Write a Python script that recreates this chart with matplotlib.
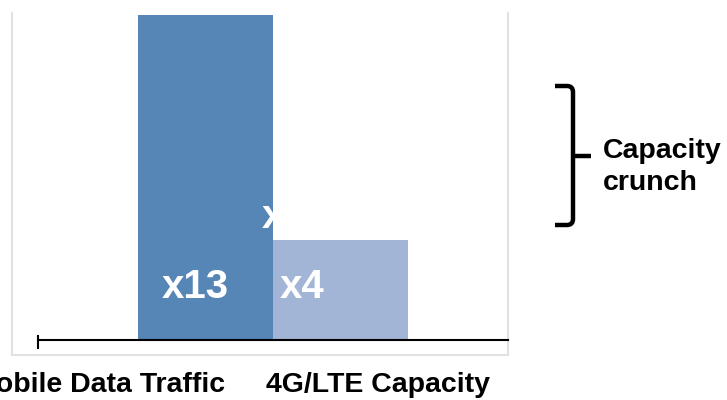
import matplotlib
matplotlib.use("Agg")
import matplotlib.pyplot as plt
from matplotlib.path import Path
from matplotlib.patches import PathPatch

# data
categories = ["Mobile Data Traffic", "4G/LTE Capacity"]
growth = [13, 4]
bar_labels = ["x13", "x4"]
bracket_label = "Capacity\ncrunch"

plt.rcParams["font.family"] = ["Liberation Sans", "DejaVu Sans"]
plt.rcParams["font.weight"] = "bold"

W, H = 727, 400
fig = plt.figure(figsize=(W / 100, H / 100), dpi=100)

# main axes in pixel box x 12..508, y 13..355
ax = fig.add_axes([12 / W, 1 - 355 / H, 496 / W, 342 / H])
ax.bar([0, 1], growth, width=1.0, color=["#5686b6", "#a2b5d7"], zorder=2)
ax.set_xlim(-1.433, 2.241)
ax.set_ylim(-0.6, 13.08)
ax.set_xticks([])
ax.set_yticks([])
ax.spines["top"].set_visible(False)
for s in ("left", "right", "bottom"):
    ax.spines[s].set_color("#e2e2e2")
    ax.spines[s].set_linewidth(1.5)

# baseline with tick at its left end
ax.plot([-1.241, 2.241], [0, 0], color="black", lw=1.5, zorder=3, clip_on=False)
ax.plot([-1.241, -1.241], [0.15, -0.3], color="black", lw=1.5, zorder=3)

# values inside bars
ax.text(-0.322, 1.7, bar_labels[0], color="white", fontsize=29,
        ha="left", va="baseline", zorder=4)
ax.text(0.552, 1.7, bar_labels[1], color="white", fontsize=29,
        ha="left", va="baseline", zorder=4)
# partly hidden label at the step between the bars
ax.text(0.42, 4.5, "x3", color="white", fontsize=29, ha="left",
        va="baseline", zorder=4)

# overlay in pixel coordinates for the outside annotations
ov = fig.add_axes([0, 0, 1, 1])
ov.set_xlim(0, W)
ov.set_ylim(H, 0)
ov.axis("off")

ov.text(225, 392, categories[0], fontsize=20.5, ha="right", va="baseline")
ov.text(266, 392, categories[1], fontsize=20.5, ha="left", va="baseline")

r = 6
verts = [(555, 86), (573 - r, 86), (573, 86), (573, 86 + r),
         (573, 225 - r), (573, 225), (573 - r, 225), (555, 225)]
codes = [Path.MOVETO, Path.LINETO, Path.CURVE3, Path.CURVE3,
         Path.LINETO, Path.CURVE3, Path.CURVE3, Path.LINETO]
ov.add_patch(PathPatch(Path(verts, codes), fill=False, lw=3.2,
                       edgecolor="black", capstyle="butt"))
ov.plot([573, 591], [156, 156], color="black", lw=3.2, solid_capstyle="butt")

ov.text(603, 138, bracket_label, fontsize=20.5, ha="left", va="top",
        linespacing=1.32)

fig.savefig("out.png", dpi=100)
